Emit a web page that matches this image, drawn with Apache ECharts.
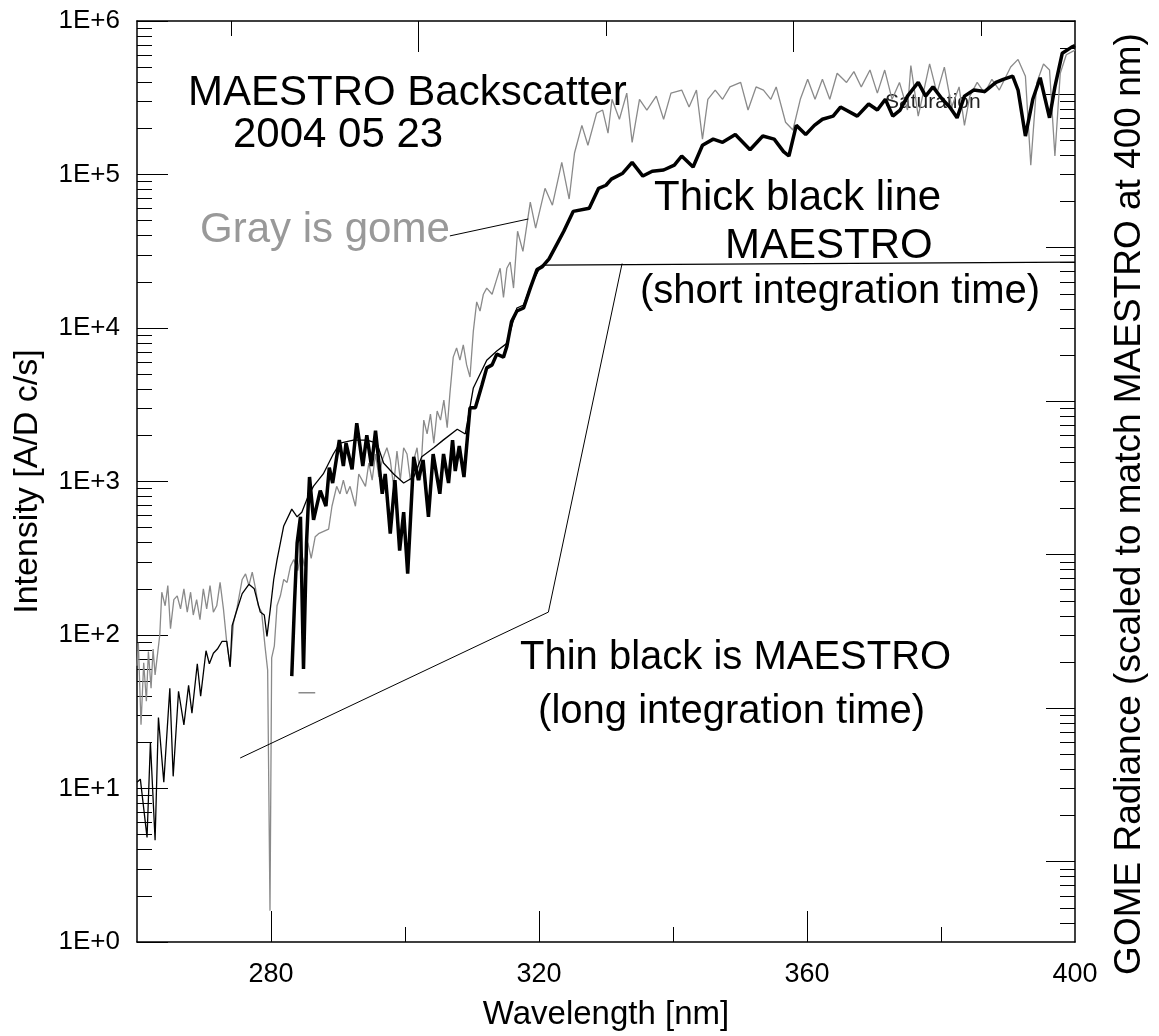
<!DOCTYPE html>
<html lang="en">

<head>
  <meta charset="UTF-8">
  <title>MAESTRO Backscatter 2004 05 23</title>
  <style>
    html, body { margin: 0; padding: 0; background: #fff; }
  </style>
</head>

<body>
  <div id="main" style="width: 1159px;height: 1036px;"></div>
</body>
<script src="https://cdn.jsdelivr.net/npm/echarts@6/dist/echarts.min.js"></script>
<script>
  // GOME radiance (gray): wavelength [nm] and value
  var gomeNm = [260.0, 260.2, 260.6, 261.0, 261.4, 261.7, 262.1, 262.4, 262.7, 263.4, 263.7, 264.2, 264.6, 265.0, 265.5,
    266.0, 266.5, 267.0, 267.5, 268.0, 268.4, 268.9, 269.4, 269.9, 270.4, 270.9, 271.4, 271.9, 272.4, 272.9, 273.4,
    273.9, 274.4, 274.9, 275.7, 276.2, 276.7, 277.2, 277.7, 278.1, 278.6, 279.1, 279.5, 279.85, 280.1, 280.5, 280.9,
    281.4, 281.9, 282.4, 282.9, 283.4, 284.0, 284.5, 285.0, 285.5, 286.0, 286.6, 287.1, 288.6, 289.1, 289.8, 290.3,
    290.8, 291.3, 291.8, 292.6, 293.1, 293.6, 294.1, 294.6, 295.1, 295.6, 296.1, 296.6, 297.3, 297.8, 298.3, 298.8,
    299.3, 299.8, 300.3, 300.8, 301.3, 301.8, 302.3, 302.8, 303.3, 303.8, 304.3, 304.8, 305.3, 305.8, 306.3, 306.7,
    307.2, 307.7, 308.2, 308.7, 309.2, 309.7, 310.2, 310.7, 311.2, 311.7, 312.2, 313.0, 313.7, 314.2, 314.7, 315.2,
    315.7, 316.2, 316.8, 317.6, 318.7, 319.5, 320.9, 322.0, 323.4, 324.5, 325.3, 326.4, 327.3, 328.6, 329.5, 330.3,
    330.9, 332.0, 333.1, 333.9, 335.0, 336.1, 337.5, 338.6, 339.7, 341.3, 342.4, 343.5, 344.4, 345.2, 346.3, 347.4,
    348.5, 350.1, 351.2, 352.4, 353.5, 354.6, 355.4, 356.8, 357.9, 359.0, 360.1, 361.2, 362.3, 363.4, 364.5, 365.9,
    367.0, 368.1, 369.4, 370.5, 371.6, 372.7, 373.8, 375.0, 375.5, 376.6, 378.3, 379.4, 380.5, 381.6, 382.7, 383.5,
    384.3, 385.4, 386.5, 387.6, 388.7, 390.4, 391.5, 392.6, 393.4, 394.3, 395.3, 396.2, 397.0, 397.8, 398.7, 400.0];
  var gomeVal = [63, 89, 26, 66, 37, 78, 45, 81, 55, 100, 190, 155, 210, 110, 170,
    180, 148, 200, 141, 190, 135, 170, 126, 200, 148, 210, 141, 155, 220, 148, 89,
    63, 120, 148, 230, 250, 210, 257, 200, 155, 141, 85, 59, 1.6, 71, 85, 155,
    180, 230, 220, 280, 310, 263, 355, 280, 400, 316, 437, 457, 490, 690, 930, 830,
    1020, 830, 930, 690, 1120, 1020, 930, 1320, 1020, 1510, 1070, 1380, 1660, 1380, 930, 1580,
    1020, 1660, 1510, 1020, 1380, 1660, 1020, 2510, 2040, 2750, 1780, 2880, 2510, 3390, 2240, 3720,
    6460, 7410, 6170, 7760, 5750, 4790, 9550, 14800, 12900, 16600, 18200, 16600, 20900, 24500, 15800, 24500,
    26900, 18200, 42700, 31600, 66100, 44700, 81300, 63100, 120000, 69200, 138000, 209000, 155000, 251000, 263000, 186000,
    309000, 229000, 339000, 162000, 309000, 263000, 324000, 229000, 339000, 355000, 275000, 355000, 170000, 309000, 355000, 309000,
    372000, 398000, 263000, 372000, 355000, 309000, 372000, 219000, 195000, 309000, 417000, 309000, 417000, 309000, 457000, 398000,
    468000, 372000, 479000, 339000, 479000, 309000, 398000, 263000, 513000, 240000, 525000, 339000, 501000, 275000, 372000, 209000,
    324000, 398000, 339000, 417000, 355000, 501000, 562000, 437000, 115000, 398000, 525000, 479000, 132000, 457000, 603000, 646000];

  // MAESTRO, short integration time (thick black)
  var shortNm = [283.1, 283.5, 283.9, 284.4, 284.85, 285.3, 285.75, 286.35, 287.35, 288.2, 288.7, 289.2, 290.2, 290.8,
    291.2, 292.1, 292.8, 293.7, 294.3, 295.0, 295.6, 296.6, 297.05, 297.8, 298.5, 299.2, 299.8, 300.4, 301.3, 302.0,
    302.7, 303.5, 304.2, 305.2, 305.75, 306.5, 307.1, 307.5, 308.1, 308.8, 309.7, 310.5, 311.5, 312.2, 313.0, 313.7,
    314.7, 315.2, 315.9, 316.7, 317.7, 318.7, 319.7, 320.5, 321.5, 322.6, 323.7, 325.1, 327.5, 328.9, 330.0, 330.8,
    332.5, 333.9, 335.5, 336.9, 338.6, 340.2, 341.3, 343.0, 344.4, 346.0, 347.4, 349.3, 351.5, 353.4, 355.1, 356.5,
    357.3, 358.4, 359.8, 361.1, 362.3, 363.9, 365.0, 367.5, 369.2, 370.5, 371.7, 372.8, 373.9, 375.0, 376.6, 377.7,
    378.8, 380.2, 381.3, 382.4, 383.5, 384.9, 386.5, 388.2, 389.3, 390.7, 391.5, 392.6, 393.7, 394.8, 396.2, 397.0,
    398.1, 399.5, 400.0];
  var shortVal = [54, 158, 398, 589, 60, 398, 1070, 562, 871, 692, 1230, 977, 1860, 1260,
    1780, 1200, 2400, 1260, 2000, 1260, 2140, 832, 1120, 457, 1020, 355, 631, 251, 1450, 1020,
    1380, 589, 1510, 832, 1510, 977, 1860, 1170, 1700, 1070, 3020, 3020, 4270, 5500, 5750, 6760,
    6460, 7590, 11000, 12900, 13500, 18200, 24000, 25100, 28200, 34700, 42700, 57500, 60300, 81300, 85100, 93300,
    102000, 120000, 97700, 105000, 107000, 115000, 132000, 112000, 155000, 170000, 162000, 182000, 145000, 178000, 170000, 141000,
    132000, 209000, 182000, 209000, 229000, 240000, 275000, 240000, 288000, 263000, 309000, 240000, 263000, 324000, 398000, 324000,
    372000, 309000, 275000, 234000, 324000, 355000, 347000, 398000, 417000, 437000, 355000, 178000, 309000, 427000, 234000, 372000,
    617000, 676000, 692000];

  // MAESTRO, long integration time (thin black), flat where it saturates
  var longNm = [260.0, 260.5, 261.5, 262.0, 262.7, 263.2, 264.0, 264.9, 265.4, 266.2, 267.0, 267.7, 268.2, 269.0,
    269.5, 270.3, 270.8, 271.4, 272.0, 272.7, 273.4, 273.9, 274.2, 274.9, 275.7, 276.7, 277.5, 278.4, 279.0, 279.4,
    279.9, 280.4, 280.9, 281.4, 281.9, 283.1, 283.9, 284.6, 285.5, 286.35, 287.8, 289.3, 290.3, 292.3, 294.3, 295.8,
    296.8, 298.3, 299.8, 301.3, 302.5, 304.3, 305.7, 307.8, 309.0, 310.2, 312.2, 313.7, 315.2, 316.7, 317.7, 318.7,
    320.2, 320.5, 400.0];
  var longVal = [11, 11.5, 4.8, 20, 4.6, 29, 11, 45, 12, 43, 26, 47, 31, 65,
    40, 79, 65, 76, 81, 91, 91, 62, 115, 145, 186, 214, 200, 141, 135, 98,
    148, 229, 309, 398, 513, 661, 589, 631, 794, 933, 1120, 1510, 1780, 1860, 1860, 1780,
    1320, 1120, 977, 1070, 1450, 1660, 1860, 2190, 2040, 4070, 6170, 7080, 7940, 13500, 14100, 18600,
    25100, 25700, 26900];

  // small gray dash under the thick line
  var dashNm = [284.1, 286.6];
  var dashVal = [42, 42];

  // leader lines from the annotations to the curves
  var grayLeaderNm = [306.7, 318.4];
  var grayLeaderVal = [39800, 51300];
  var thinLeaderNm = [275.4, 321.4, 332.4];
  var thinLeaderVal = [15.8, 141, 26300];

  // axis ticks
  var xLabels = [280, 320, 360, 400];
  var xLongTicks = [280, 320, 360];
  var xShortTicks = [300, 340, 380];
  var topLongTicks = [302, 358];
  var topShortTicks = [274, 330, 386];
  var yDecades = [1, 10, 100, 1000, 10000, 100000, 1000000];
  var gomeMin = 0.3;
  var gomeMax = 300000;
  var gomeDecades = [1, 10, 100, 1000, 10000, 100000];

  function minorTicks(decades) {
    var out = [];
    decades.forEach(function (d) {
      for (var k = 2; k <= 9; k++) out.push(d * k);
    });
    return out;
  }
  var yMinor = minorTicks([1, 10, 100, 1000, 10000, 100000]);
  var gomeMinor = [0.4, 0.5, 0.6, 0.7, 0.8, 0.9].concat(minorTicks([1, 10, 100, 1000, 10000, 100000]));

  function pairs(xs, ys) {
    return xs.map(function (x, i) { return [x, ys[i]]; });
  }

  var FONT = 'Liberation Sans, Arial, Helvetica, sans-serif';
  var chartDom = document.getElementById('main');
  var myChart = echarts.init(chartDom);
  var option;

  var axisLine = { show: true, lineStyle: { color: '#000', width: 1.5 } };
  var noLine = { show: false };

  option = {
    animation: false,
    backgroundColor: '#fff',
    grid: { left: 137, right: 84, top: 21, bottom: 87 },
    xAxis: [
      {
        type: 'value', position: 'bottom', min: 260, max: 400,
        name: 'Wavelength [nm]', nameLocation: 'middle', nameGap: 56,
        nameTextStyle: { fontFamily: FONT, fontSize: 33, color: '#000' },
        axisLine: axisLine,
        splitLine: { show: false },
        axisTick: { inside: true, length: 31, customValues: xLongTicks, lineStyle: { color: '#000', width: 1 } },
        axisLabel: { customValues: xLabels, margin: 19, fontFamily: FONT, fontSize: 27, color: '#000' }
      },
      {
        type: 'value', position: 'bottom', min: 260, max: 400,
        axisLine: noLine, splitLine: { show: false },
        axisTick: { inside: true, length: 15, customValues: xShortTicks, lineStyle: { color: '#000', width: 1 } },
        axisLabel: { show: false }
      },
      {
        type: 'value', position: 'top', min: 260, max: 400,
        axisLine: axisLine, splitLine: { show: false },
        axisTick: { inside: true, length: 31, customValues: topLongTicks, lineStyle: { color: '#000', width: 1 } },
        axisLabel: { show: false }
      },
      {
        type: 'value', position: 'top', min: 260, max: 400,
        axisLine: noLine, splitLine: { show: false },
        axisTick: { inside: true, length: 15, customValues: topShortTicks, lineStyle: { color: '#000', width: 1 } },
        axisLabel: { show: false }
      }
    ],
    yAxis: [
      {
        type: 'log', logBase: 10, position: 'left', min: 1, max: 1000000,
        name: 'Intensity [A/D c/s]', nameLocation: 'middle', nameRotate: 90, nameGap: 92,
        nameTextStyle: { fontFamily: FONT, fontSize: 34, color: '#000' },
        axisLine: axisLine, splitLine: { show: false },
        axisTick: { inside: true, length: 31, customValues: yDecades, lineStyle: { color: '#000', width: 1 } },
        axisLabel: {
          customValues: yDecades, margin: 17, fontFamily: FONT, fontSize: 26, color: '#000',
          formatter: function (v) { return '1E+' + Math.round(Math.log10(v)); }
        }
      },
      {
        type: 'log', logBase: 10, position: 'left', min: 1, max: 1000000,
        axisLine: noLine, splitLine: { show: false },
        axisTick: { inside: true, length: 15, customValues: yMinor, lineStyle: { color: '#000', width: 1 } },
        axisLabel: { show: false }
      },
      {
        type: 'log', logBase: 10, position: 'right', min: gomeMin, max: gomeMax,
        axisLine: axisLine, splitLine: { show: false },
        axisTick: { inside: true, length: 29, customValues: gomeDecades, lineStyle: { color: '#000', width: 1 } },
        axisLabel: { show: false }
      },
      {
        type: 'log', logBase: 10, position: 'right', min: gomeMin, max: gomeMax,
        axisLine: noLine, splitLine: { show: false },
        axisTick: { inside: true, length: 15, customValues: gomeMinor, lineStyle: { color: '#000', width: 1 } },
        axisLabel: { show: false }
      }
    ],
    series: [
      {
        name: 'GOME', type: 'line', data: pairs(gomeNm, gomeVal), symbol: 'none',
        lineStyle: { color: '#8a8a8a', width: 1.3 }
      },
      {
        name: 'dash', type: 'line', data: pairs(dashNm, dashVal), symbol: 'none',
        lineStyle: { color: '#8a8a8a', width: 1.5 }
      },
      {
        name: 'MAESTRO long', type: 'line', data: pairs(longNm, longVal), symbol: 'none',
        lineStyle: { color: '#000', width: 1.3 }
      },
      {
        name: 'MAESTRO short', type: 'line', data: pairs(shortNm, shortVal), symbol: 'none',
        lineStyle: { color: '#000', width: 3.5 }
      },
      {
        name: 'gray leader', type: 'line', data: pairs(grayLeaderNm, grayLeaderVal), symbol: 'none',
        lineStyle: { color: '#000', width: 1 }
      },
      {
        name: 'thin leader', type: 'line', data: pairs(thinLeaderNm, thinLeaderVal), symbol: 'none',
        lineStyle: { color: '#000', width: 1 }
      }
    ],
    graphic: [
      { type: 'text', left: 188, top: 72, style: { text: 'MAESTRO Backscatter', font: '42px ' + FONT, fill: '#000' } },
      { type: 'text', left: 233, top: 114, style: { text: '2004 05 23', font: '42px ' + FONT, fill: '#000' } },
      { type: 'text', left: 200, top: 209, style: { text: 'Gray is gome', font: '42px ' + FONT, fill: '#999' } },
      { type: 'text', left: 654, top: 177, style: { text: 'Thick black line', font: '42px ' + FONT, fill: '#000' } },
      { type: 'text', left: 725, top: 225, style: { text: 'MAESTRO', font: '42px ' + FONT, fill: '#000' } },
      { type: 'text', left: 640, top: 272, style: { text: '(short integration time)', font: '40px ' + FONT, fill: '#000' } },
      { type: 'text', left: 520, top: 638, style: { text: 'Thin black is MAESTRO', font: '40px ' + FONT, fill: '#000' } },
      { type: 'text', left: 527, top: 692, style: { text: ' (long integration time)', font: '40px ' + FONT, fill: '#000' } },
      { type: 'text', left: 885, top: 92, style: { text: 'Saturation', font: '21px ' + FONT, fill: '#222' } },
      {
        type: 'text', x: 1130, y: 504, rotation: Math.PI / 2,
        style: {
          text: 'GOME Radiance (scaled to match MAESTRO at 400 nm)', font: '37px ' + FONT, fill: '#000',
          textAlign: 'center', textVerticalAlign: 'middle'
        }
      }
    ]
  };

  option && myChart.setOption(option);
</script>

</html>
